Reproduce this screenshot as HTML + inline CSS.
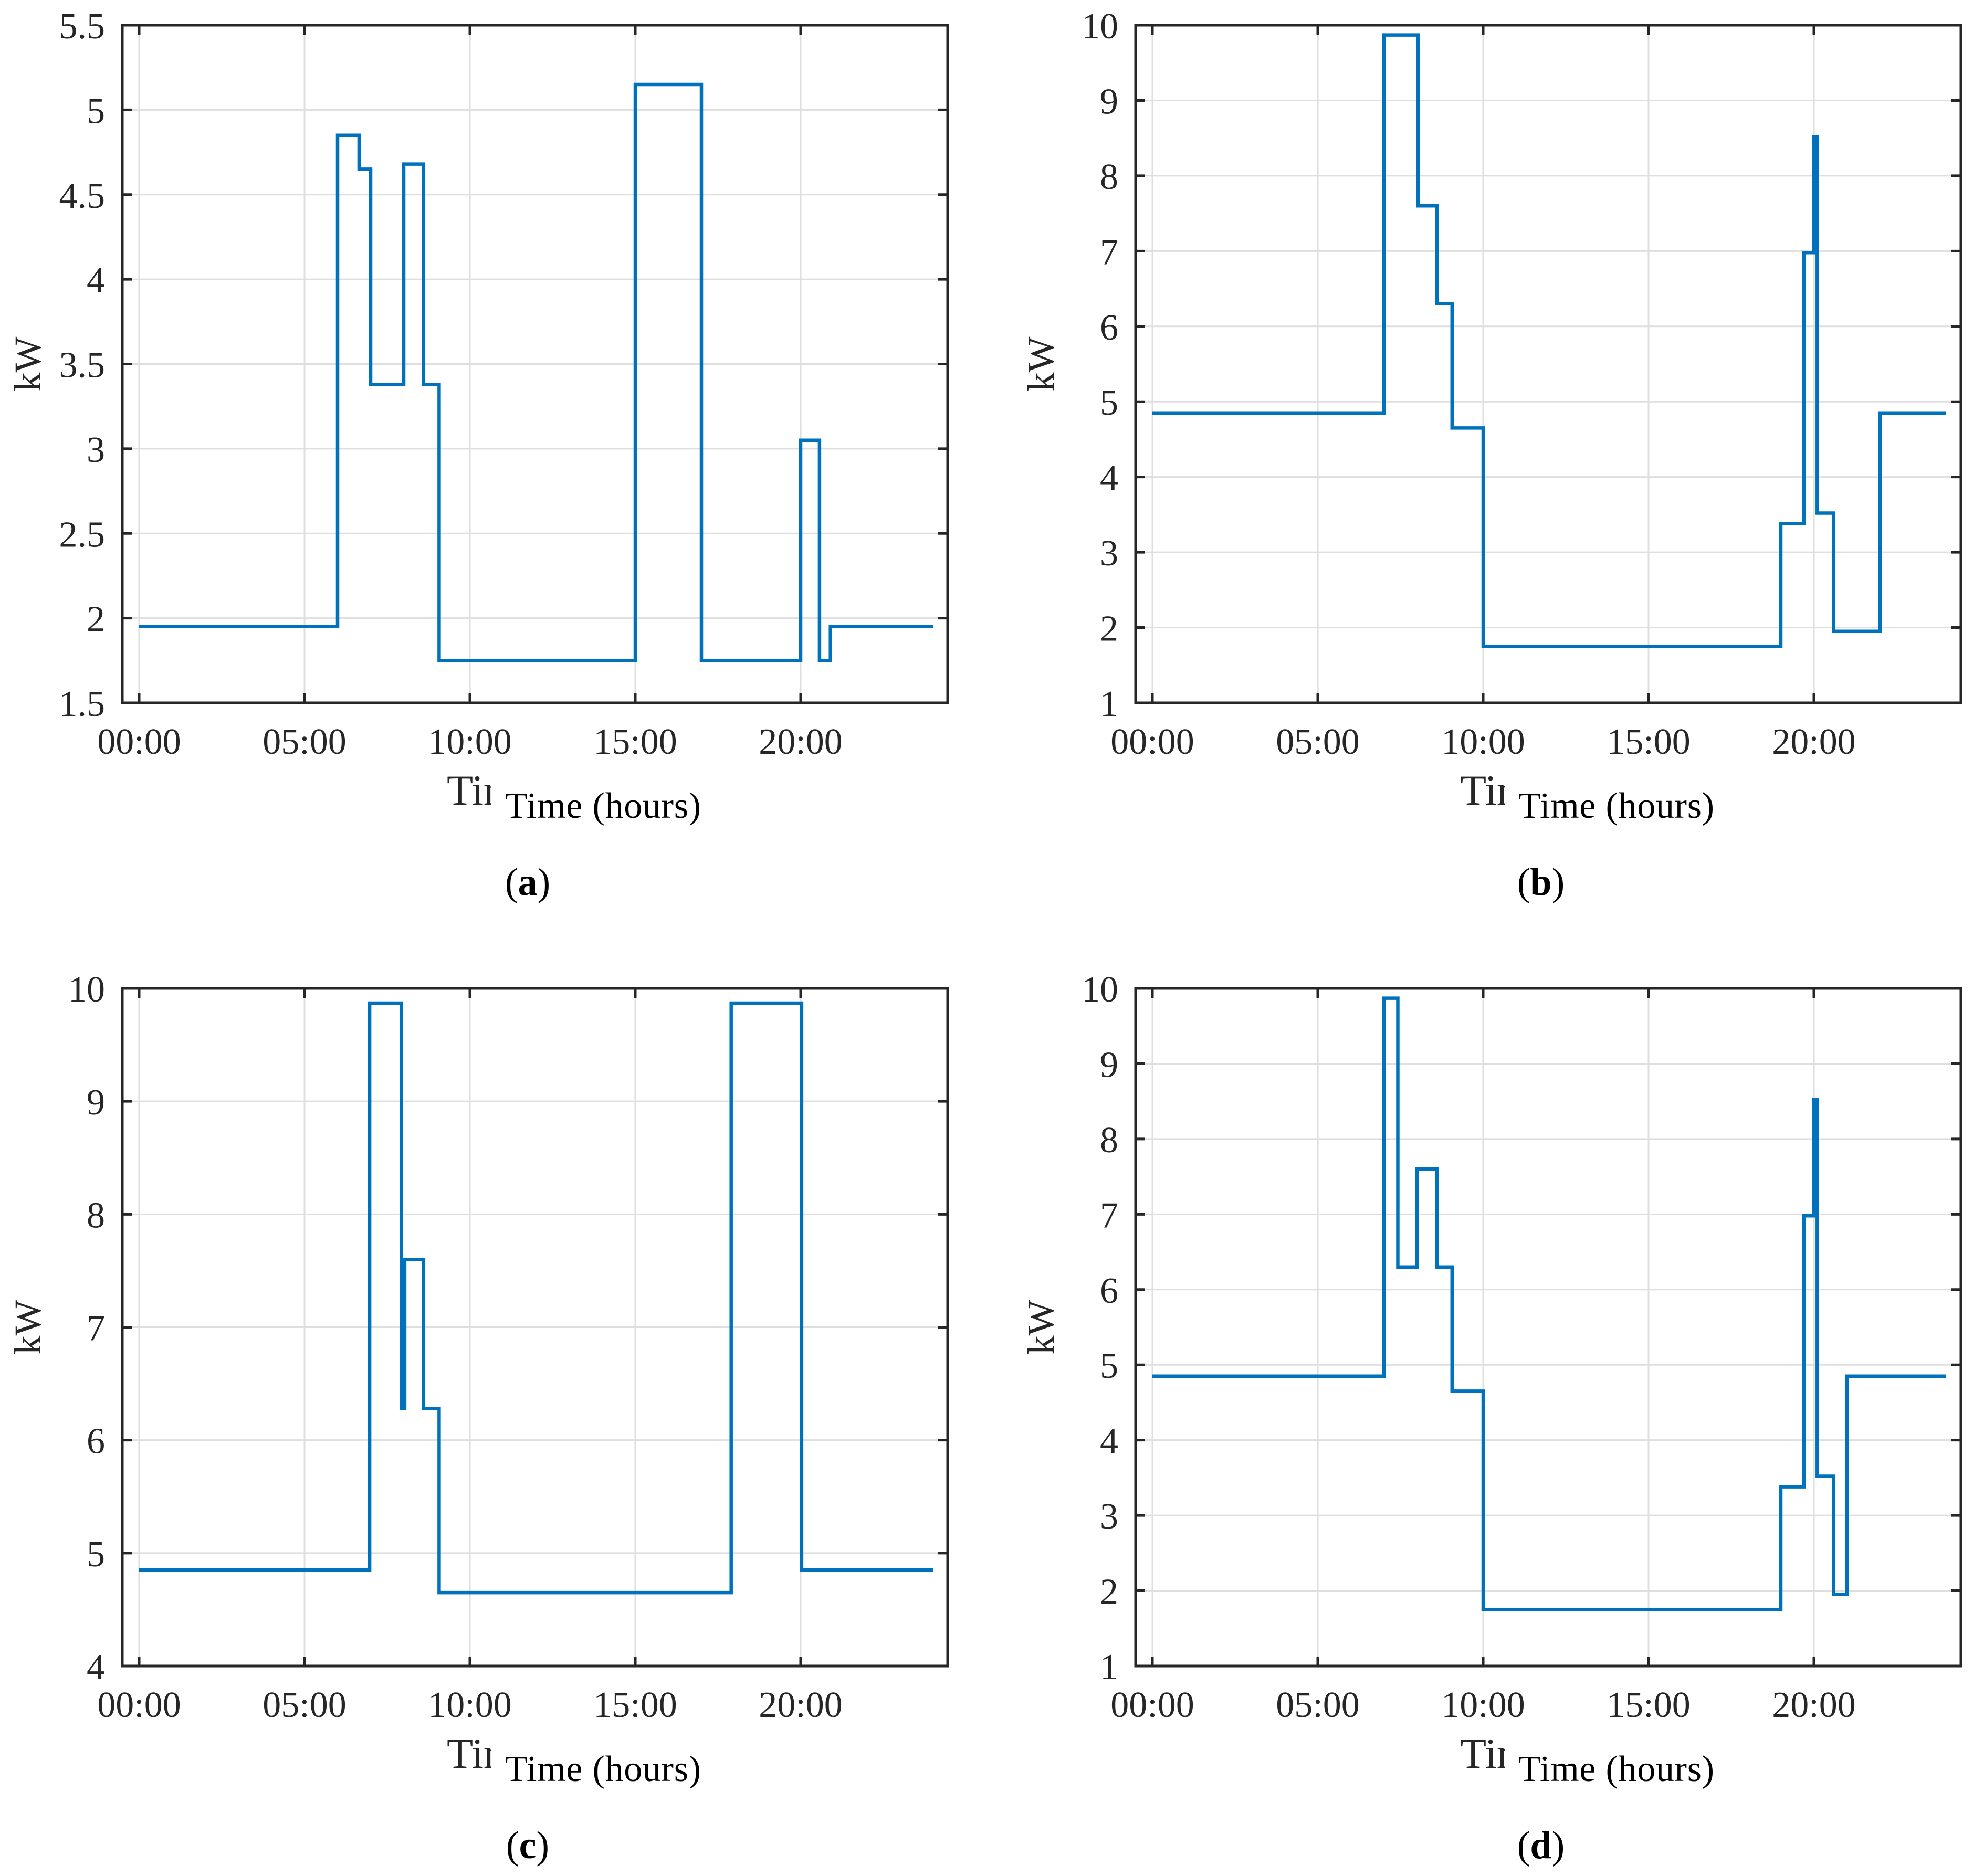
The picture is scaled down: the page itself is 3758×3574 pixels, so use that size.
<!DOCTYPE html>
<html><head><meta charset="utf-8"><style>
html,body{margin:0;padding:0;background:#fff;}
svg{display:block;}
text{font-family:"Liberation Serif",serif;}
</style></head><body>
<svg id="fig" width="3758" height="3574" viewBox="0 0 3758 3574" xmlns="http://www.w3.org/2000/svg"></svg>
<script>
const xTickHours = [0,5,10,15,20];
const xTickLabels = ["00:00","05:00","10:00","15:00","20:00"];
const aTimes = [0,6,6.65,7,8,8.6,9.07,15,17,20,20.57,20.9];
const aValues = [1.95,4.85,4.65,3.38,4.68,3.38,1.75,5.15,1.75,3.05,1.75,1.95];
const aYTicks = [1.5,2,2.5,3,3.5,4,4.5,5,5.5];
const bTimes = [0,7,8.03,8.6,9.06,10,19,19.7,20,20.1,20.6,22];
const bValues = [4.85,9.87,7.6,6.3,4.65,1.75,3.38,6.98,8.52,3.52,1.95,4.85];
const bYTicks = [1,2,3,4,5,6,7,8,9,10];
const cTimes = [0,6.97,7.93,8.03,8.6,9.07,17.9,20.03];
const cValues = [4.85,9.87,6.28,7.6,6.28,4.65,9.87,4.85];
const cYTicks = [4,5,6,7,8,9,10];
const dTimes = [0,7,7.42,8,8.6,9.06,10,19,19.7,20,20.1,20.6,21];
const dValues = [4.85,9.87,6.3,7.6,6.3,4.65,1.75,3.38,6.98,8.52,3.52,1.95,4.85];
const dYTicks = [1,2,3,4,5,6,7,8,9,10];
const endHour = 24;

const NS = "http://www.w3.org/2000/svg";
const svg = document.getElementById('fig');
function mk(tag, attrs, parent){
  const e = document.createElementNS(NS, tag);
  for (const k in attrs) e.setAttribute(k, attrs[k]);
  (parent||svg).appendChild(e);
  return e;
}
function panel(id, ox, oy, times, values, yTicks, letter){
  const L = ox+233, T = oy+48, W = 1572, H = 1291;
  const g = mk('g', {});
  
  
  const x0 = L+32, hw = 63;
  const xs = h => x0 + h*hw;
  const yMin = yTicks[0], yMax = yTicks[yTicks.length-1];
  const ys = v => T + H - (v-yMin)/(yMax-yMin)*H;
  xTickHours.forEach(h => {
    const l = mk('line', {x1:xs(h), x2:xs(h), y1:T, y2:T+H, stroke:'#dfdfdf', 'stroke-width':3}, g);
    
    
  });
  yTicks.forEach(v => {
    const l = mk('line', {x1:L, x2:L+W, y1:ys(v), y2:ys(v), stroke:'#dfdfdf', 'stroke-width':3}, g);
    
    
  });
  let d = '';
  for (let i=0;i<times.length;i++){
    const t1 = i+1<times.length ? times[i+1] : endHour;
    d += (i===0 ? 'M' : 'L') + xs(times[i]) + ',' + ys(values[i]) + ' L' + xs(t1) + ',' + ys(values[i]) + ' ';
  }
  const p = mk('path', {d:d, fill:'none', stroke:'#0072BD', 'stroke-width':6.5, 'stroke-linejoin':'miter'}, g);
  
  
  xTickHours.forEach((h,i) => {
    mk('line', {x1:xs(h), x2:xs(h), y1:T+H, y2:T+H-18, stroke:'#262626', 'stroke-width':5}, g);
    mk('line', {x1:xs(h), x2:xs(h), y1:T, y2:T+18, stroke:'#262626', 'stroke-width':5}, g);
    const t = mk('text', {x:xs(h), y:T+H+97, 'text-anchor':'middle', 'font-size':70, fill:'#262626'}, g);
    t.textContent = xTickLabels[i];
    
    
  });
  yTicks.forEach(v => {
    mk('line', {x1:L, x2:L+18, y1:ys(v), y2:ys(v), stroke:'#262626', 'stroke-width':5}, g);
    mk('line', {x1:L+W, x2:L+W-18, y1:ys(v), y2:ys(v), stroke:'#262626', 'stroke-width':5}, g);
    const t = mk('text', {x:L-33, y:ys(v)+25, 'text-anchor':'end', 'font-size':70, fill:'#262626'}, g);
    t.textContent = String(v);
    
    
  });
  const box = mk('rect', {x:L, y:T, width:W, height:H, fill:'none', stroke:'#262626', 'stroke-width':5}, g);
  
  
  const yl = mk('text', {x:0, y:0, transform:'translate('+(ox+77)+','+(T+H/2)+') rotate(-90)', 'text-anchor':'middle', 'font-size':72, fill:'#262626'}, g);
  yl.textContent = 'kW';
  
  
  const clipId = 'clip-' + id;
  const cp = mk('clipPath', {id:clipId}, g);
  mk('rect', {x:ox+845, y:oy+1430, width:91, height:120}, cp);
  const ghost = mk('text', {x:ox+851, y:oy+1533, 'font-size':82, fill:'#262626', 'clip-path':'url(#'+clipId+')'}, g);
  ghost.textContent = 'Time (hours)';
  
  
  const xl = mk('text', {x:ox+962, y:oy+1558, 'font-size':70, fill:'#000', textLength:373}, g);
  xl.textContent = 'Time (hours)';
  
  
  const cap = mk('text', {x:ox+1005, y:oy+1705, 'text-anchor':'middle', 'font-size':74, fill:'#000'}, g);
  cap.innerHTML = '(<tspan font-weight="bold">' + letter + '</tspan>)';
  
  
}
panel('a', 0, 0, aTimes, aValues, aYTicks, 'a');
panel('b', 1930, 0, bTimes, bValues, bYTicks, 'b');
panel('c', 0, 1835, cTimes, cValues, cYTicks, 'c');
panel('d', 1930, 1835, dTimes, dValues, dYTicks, 'd');
</script>
</body></html>
